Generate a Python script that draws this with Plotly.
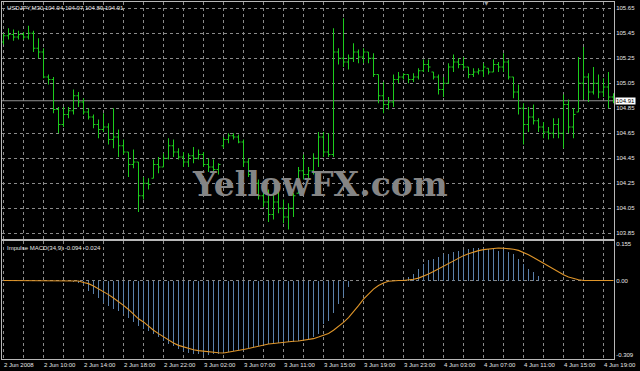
import plotly.graph_objects as go

# ---------------- data ----------------
SYMBOL_TITLE = "USDJPY,M30 104.94 104.97 104.89 104.91"
MACD_TITLE = "Impulse MACD(34,9) -0.094 -0.024"
WATERMARK = "YellowFX.com"

TIME_LABEL_BARS = [0, 8, 16, 24, 32, 40, 48, 56, 64, 72, 80, 88, 96, 104, 112, 120]
TIME_LABELS = ["2 Jun 2008", "2 Jun 10:00", "2 Jun 14:00", "2 Jun 18:00", "2 Jun 22:00",
               "3 Jun 02:00", "3 Jun 07:00", "3 Jun 11:00", "3 Jun 15:00", "3 Jun 19:00",
               "3 Jun 23:00", "4 Jun 03:00", "4 Jun 07:00", "4 Jun 11:00", "4 Jun 15:00",
               "4 Jun 19:00"]

PRICE_TICKS = [103.85, 104.05, 104.25, 104.45, 104.65, 104.85, 105.05, 105.25, 105.45, 105.65]
MACD_TICKS = [0.155, 0.0, -0.309]
MACD_TICK_TEXT = ["0.155", "0.00", "-0.309"]

OPEN = [
    105.38, 105.43, 105.44, 105.42, 105.44, 105.42, 105.45, 105.33, 105.30, 105.10,
    105.08, 104.84, 104.72, 104.80, 104.83, 104.95, 104.90, 104.82, 104.78, 104.72,
    104.68, 104.70, 104.60, 104.62, 104.55, 104.50, 104.40, 104.42, 104.15, 104.25,
    104.29, 104.40, 104.38, 104.45, 104.55, 104.50, 104.46, 104.42, 104.47, 104.45,
    104.48, 104.40, 104.38, 104.36, 104.55, 104.60, 104.63, 104.62, 104.58, 104.42,
    104.28, 104.25, 104.15, 104.10, 104.00, 104.10, 104.05, 103.98, 104.05, 104.17,
    104.35, 104.32, 104.35, 104.45, 104.62, 104.50, 104.48, 105.30, 105.25, 105.22,
    105.25, 105.30, 105.26, 105.30, 105.25, 105.12, 104.95, 104.88, 104.90, 105.08,
    105.10, 105.12, 105.08, 105.10, 105.15, 105.20, 105.14, 105.10, 105.00, 105.05,
    105.18, 105.22, 105.20, 105.18, 105.12, 105.14, 105.15, 105.17, 105.14, 105.20,
    105.18, 105.22, 105.10, 104.98, 104.85, 104.72, 104.78, 104.75, 104.70, 104.66,
    104.65, 104.72, 104.65, 104.88, 104.70, 104.82, 105.05, 105.10, 104.98, 105.05,
    104.98, 105.02, 104.94]
HIGH = [
    105.45, 105.49, 105.48, 105.47, 105.46, 105.51, 105.47, 105.41, 105.33, 105.12,
    105.10, 104.86, 104.86, 104.86, 105.00, 104.98, 104.93, 104.85, 104.80, 104.76,
    104.81, 104.73, 104.85, 104.68, 104.60, 104.50, 104.52, 104.42, 104.30, 104.29,
    104.44, 104.46, 104.49, 104.61, 104.60, 104.53, 104.50, 104.49, 104.54, 104.52,
    104.50, 104.45, 104.44, 104.41, 104.62, 104.65, 104.65, 104.64, 104.60, 104.45,
    104.30, 104.28, 104.24, 104.20, 104.17, 104.20, 104.12, 104.09, 104.17, 104.38,
    104.48, 104.38, 104.49, 104.66, 104.66, 104.65, 105.49, 105.33, 105.57, 105.28,
    105.37, 105.32, 105.33, 105.30, 105.29, 105.12, 105.06, 104.94, 105.12, 105.14,
    105.13, 105.12, 105.13, 105.17, 105.24, 105.24, 105.14, 105.12, 105.10, 105.21,
    105.28, 105.25, 105.26, 105.18, 105.17, 105.17, 105.21, 105.17, 105.24, 105.22,
    105.29, 105.24, 105.10, 105.04, 104.89, 104.86, 104.88, 104.77, 104.74, 104.70,
    104.77, 104.77, 104.96, 104.92, 104.85, 105.26, 105.34, 105.13, 105.18, 105.12,
    105.09, 105.14, 104.97]
LOW = [
    105.36, 105.40, 105.39, 105.40, 105.40, 105.40, 105.30, 105.25, 105.09, 105.04,
    104.81, 104.65, 104.70, 104.77, 104.80, 104.86, 104.80, 104.76, 104.69, 104.61,
    104.66, 104.56, 104.53, 104.46, 104.48, 104.30, 104.37, 104.02, 104.12, 104.20,
    104.29, 104.33, 104.38, 104.44, 104.46, 104.44, 104.38, 104.38, 104.41, 104.44,
    104.38, 104.34, 104.33, 104.32, 104.53, 104.57, 104.60, 104.57, 104.38, 104.30,
    104.22, 104.12, 104.06, 103.94, 103.96, 104.01, 103.93, 103.88, 103.98, 104.17,
    104.28, 104.28, 104.32, 104.38, 104.46, 104.46, 104.46, 105.20, 105.18, 105.16,
    105.22, 105.21, 105.21, 105.21, 105.10, 104.89, 104.81, 104.84, 104.86, 105.05,
    105.08, 105.05, 105.06, 105.08, 105.14, 105.14, 105.08, 104.96, 104.94, 105.05,
    105.14, 105.17, 105.16, 105.09, 105.10, 105.12, 105.10, 105.12, 105.14, 105.14,
    105.14, 105.08, 104.93, 104.80, 104.56, 104.66, 104.72, 104.66, 104.61, 104.60,
    104.61, 104.61, 104.53, 104.65, 104.61, 104.82, 104.92, 104.90, 104.96, 104.93,
    104.94, 104.85, 104.89]
CLOSE = [
    105.43, 105.44, 105.42, 105.44, 105.42, 105.45, 105.33, 105.30, 105.10, 105.08,
    104.84, 104.72, 104.80, 104.83, 104.95, 104.90, 104.82, 104.78, 104.72, 104.68,
    104.70, 104.60, 104.62, 104.55, 104.50, 104.40, 104.42, 104.15, 104.25, 104.24,
    104.40, 104.38, 104.45, 104.55, 104.50, 104.46, 104.42, 104.47, 104.45, 104.48,
    104.40, 104.38, 104.36, 104.40, 104.60, 104.63, 104.62, 104.58, 104.42, 104.32,
    104.25, 104.15, 104.10, 104.00, 104.10, 104.05, 103.98, 104.05, 104.15, 104.35,
    104.32, 104.35, 104.45, 104.62, 104.50, 104.48, 105.30, 105.25, 105.22, 105.25,
    105.30, 105.26, 105.30, 105.25, 105.12, 104.95, 104.88, 104.90, 105.08, 105.10,
    105.12, 105.08, 105.10, 105.15, 105.20, 105.18, 105.10, 105.00, 105.05, 105.18,
    105.22, 105.20, 105.18, 105.12, 105.14, 105.15, 105.18, 105.14, 105.20, 105.18,
    105.22, 105.10, 104.98, 104.85, 104.72, 104.78, 104.75, 104.70, 104.66, 104.65,
    104.72, 104.65, 104.88, 104.70, 104.80, 105.05, 105.10, 104.98, 105.05, 104.98,
    105.02, 104.94, 104.91]

MACD_HIST = [
    0, 0, 0, 0, 0, 0, 0, 0, 0, 0,
    0, 0, 0, 0, -0.002, -0.006, -0.018, -0.041, -0.055, -0.069,
    -0.090, -0.104, -0.118, -0.125, -0.139, -0.153, -0.173, -0.187, -0.201, -0.208,
    -0.222, -0.236, -0.250, -0.264, -0.271, -0.285, -0.292, -0.299, -0.306, -0.306,
    -0.309, -0.309, -0.305, -0.305, -0.300, -0.296, -0.292, -0.288, -0.284, -0.280,
    -0.276, -0.272, -0.268, -0.265, -0.262, -0.260, -0.258, -0.256, -0.254, -0.252,
    -0.250, -0.245, -0.236, -0.222, -0.180, -0.166, -0.132, -0.097, -0.065, -0.025,
    0, 0, 0, 0, 0, 0, 0, 0, 0, 0,
    0, 0.016, 0.030, 0.051, 0.072, 0.086, 0.093, 0.102, 0.111, 0.114,
    0.120, 0.127, 0.130, 0.135, 0.139, 0.139, 0.139, 0.135, 0.135, 0.127,
    0.130, 0.120, 0.114, 0.093, 0.072, 0.051, 0.037, 0.023, 0, 0,
    0, 0, 0, 0, 0, 0, 0, 0, 0, 0,
    0, 0, 0]
MACD_SIGNAL = [
    0, 0, 0, 0, 0, 0, 0, 0, 0, 0,
    0, 0, 0, 0, -0.001, -0.002, -0.008, -0.013, -0.023, -0.034,
    -0.045, -0.059, -0.073, -0.087, -0.104, -0.121, -0.139, -0.160, -0.173, -0.192,
    -0.208, -0.222, -0.236, -0.250, -0.261, -0.271, -0.278, -0.285, -0.289, -0.293,
    -0.296, -0.298, -0.300, -0.302, -0.303, -0.300, -0.296, -0.292, -0.288, -0.284,
    -0.279, -0.274, -0.270, -0.265, -0.263, -0.260, -0.259, -0.257, -0.254, -0.253,
    -0.250, -0.247, -0.243, -0.236, -0.228, -0.221, -0.208, -0.192, -0.175, -0.155,
    -0.132, -0.105, -0.078, -0.055, -0.036, -0.021, -0.010, -0.003, 0, 0,
    0, 0.002, 0.005, 0.010, 0.018, 0.027, 0.038, 0.049, 0.060, 0.072,
    0.084, 0.095, 0.104, 0.112, 0.119, 0.125, 0.129, 0.132, 0.135, 0.136,
    0.135, 0.134, 0.131, 0.126, 0.118, 0.108, 0.096, 0.084, 0.070, 0.057,
    0.045, 0.034, 0.024, 0.015, 0.008, 0.003, 0, 0, 0, 0,
    0, 0, 0]

# ---------------- styling ----------------
GREEN = "#1ccc1c"
HIST_COLOR = "#5a80aa"
SIG_COLOR = "#e0962a"
GRID = "#8a8a8a"
FRAME = "#b8b8b8"
TEXT = "#e6e6e6"
DASH = "3px,3px"

bars = list(range(len(CLOSE)))
x_range = [-0.3, 122.1]

fig = go.Figure()
fig.add_trace(go.Ohlc(
    x=bars, open=OPEN, high=HIGH, low=LOW, close=CLOSE,
    xaxis="x", yaxis="y", tickwidth=0.4, hoverinfo="skip",
    increasing=dict(line=dict(color=GREEN, width=1)),
    decreasing=dict(line=dict(color=GREEN, width=1)),
))
fig.add_trace(go.Bar(
    x=bars, y=MACD_HIST, xaxis="x2", yaxis="y2", width=0.2,
    marker=dict(color=HIST_COLOR, line=dict(width=0)), hoverinfo="skip",
))
fig.add_trace(go.Scatter(
    x=bars, y=MACD_SIGNAL, xaxis="x2", yaxis="y2", mode="lines",
    line=dict(color=SIG_COLOR, width=1.1), hoverinfo="skip",
))

xgrid = dict(showgrid=True, gridcolor=GRID, griddash=DASH, gridwidth=1,
             minor=dict(tickmode="linear", tick0=0, dtick=4, showgrid=True,
                        gridcolor=GRID, griddash=DASH, gridwidth=1, ticks=""))
frame = dict(showline=True, mirror=True, linecolor=FRAME, linewidth=1,
             zeroline=False, ticks="", fixedrange=True, automargin=False)

fig.update_layout(
    width=640, height=371,
    margin=dict(l=2, r=26, t=2, b=12),
    paper_bgcolor="black", plot_bgcolor="black",
    showlegend=False, bargap=0,
    font=dict(family="Liberation Sans", size=6, color=TEXT),
    xaxis=dict(domain=[0, 1], anchor="y", range=x_range, tickmode="array",
               tickvals=TIME_LABEL_BARS, showticklabels=False,
               rangeslider=dict(visible=False), **xgrid, **frame),
    yaxis=dict(domain=[0.3375, 1], anchor="x", side="right",
               range=[103.808, 105.700], tickmode="array", tickvals=PRICE_TICKS,
               tickformat=".2f", showgrid=True, gridcolor=GRID, griddash=DASH,
               gridwidth=1, **frame),
    xaxis2=dict(domain=[0, 1], anchor="y2", matches="x", range=x_range,
                tickmode="array", tickvals=TIME_LABEL_BARS, ticktext=TIME_LABELS,
                tickangle=0, ticklabelposition="outside right", **xgrid, **frame),
    yaxis2=dict(domain=[0, 0.3319], anchor="x2", side="right",
                range=[-0.328, 0.1672], tickmode="array", tickvals=MACD_TICKS,
                ticktext=MACD_TICK_TEXT, showgrid=False, **frame),
)

fig.add_shape(type="line", xref="x2 domain", x0=0, x1=1, yref="y2", y0=0, y1=0,
              line=dict(color=GRID, width=1, dash=DASH), layer="below")
fig.add_shape(type="line", xref="x domain", x0=0, x1=1, yref="y",
              y0=CLOSE[-1], y1=CLOSE[-1], line=dict(color="#909090", width=1),
              layer="below")

fig.add_annotation(xref="x domain", x=1, xanchor="left", xshift=1,
                   yref="y", y=CLOSE[-1], yanchor="middle",
                   text=f"{CLOSE[-1]:.2f}", showarrow=False, bgcolor="white",
                   borderpad=0, font=dict(color="black", size=6))
fig.add_annotation(xref="x domain", x=0, xanchor="left", xshift=3,
                   yref="y domain", y=1, yanchor="top", yshift=-1,
                   text=SYMBOL_TITLE, showarrow=False, font=dict(size=6, color=TEXT))
fig.add_annotation(xref="x2 domain", x=0, xanchor="left", xshift=3,
                   yref="y2 domain", y=1, yanchor="top", yshift=-2,
                   text=MACD_TITLE, showarrow=False, font=dict(size=6, color=TEXT))
fig.add_annotation(xref="paper", x=0.52, yref="paper", y=0.49,
                   text=f"<b>{WATERMARK}</b>", showarrow=False,
                   font=dict(family="DejaVu Serif", size=33, color="#858585"))
fig.add_annotation(xref="paper", x=0.799, yref="paper", y=1, yanchor="middle",
                   text="▼", showarrow=False,
                   font=dict(family="DejaVu Sans", size=6, color="#9a9a9a"))

fig.write_html("out.html")
